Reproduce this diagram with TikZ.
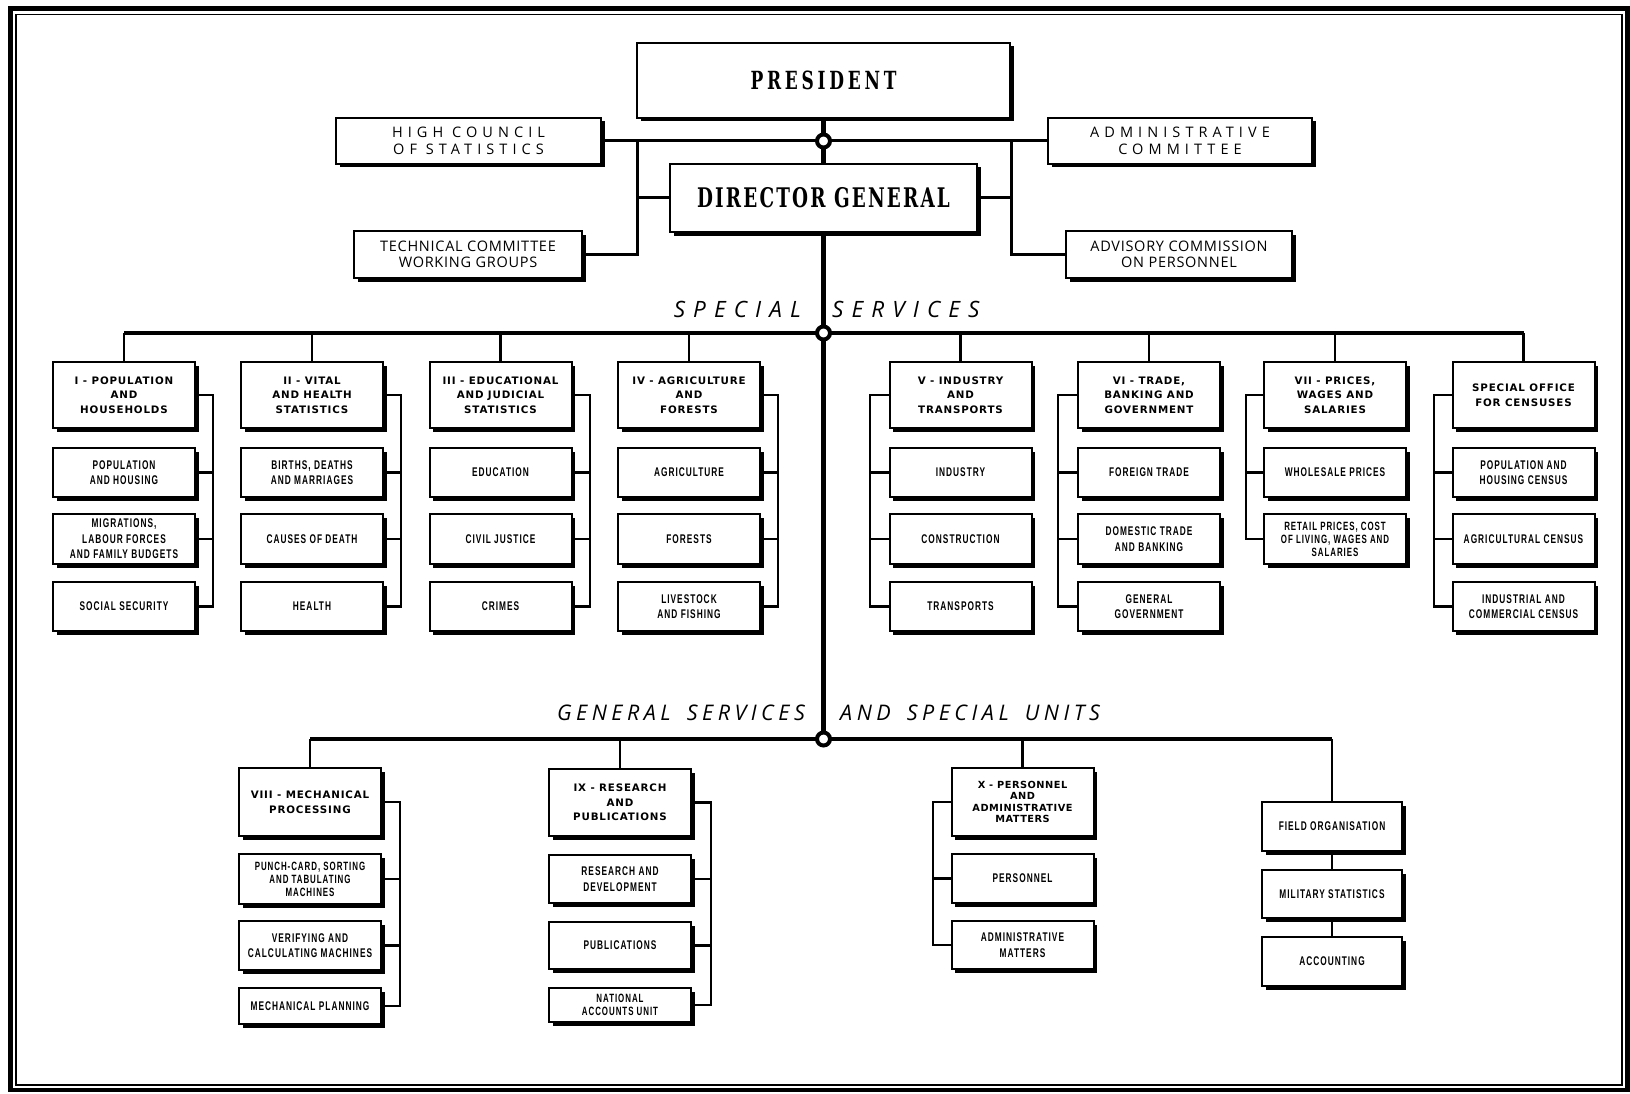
\documentclass[tikz,border=0pt]{standalone}
\usepackage{fontspec}
\usetikzlibrary{shadows}
\newfontfamily\presfont[FakeStretch=0.68]{DejaVu Serif}
\newfontfamily\hdfont{DejaVu Sans}
\newfontfamily\sbfont[FakeStretch=0.66]{Liberation Sans}
\newfontfamily\topfont{Open Sans}
\tikzset{
  box/.style={draw, line width=2pt, fill=white, inner sep=1pt, align=center,
    drop shadow={shadow xshift=3.5pt, shadow yshift=-3.5pt, fill=black, opacity=1}},
  presbox/.style={box, font=\presfont\bfseries\fontsize{25}{28}\selectfont\addfontfeatures{LetterSpace=15}},
  dgbox/.style={box, font=\presfont\bfseries\fontsize{27}{30}\selectfont\addfontfeatures{LetterSpace=8}},
  topwide/.style={box, font=\topfont\fontsize{14.5}{16.6}\selectfont\addfontfeatures{LetterSpace=35}},
  topnarrow/.style={box, font=\topfont\fontsize{14.5}{16.6}\selectfont\addfontfeatures{LetterSpace=5}},
  hdbox/.style={box, minimum width=142pt, minimum height=66pt, font=\hdfont\bfseries\fontsize{10.3}{14.5}\selectfont\addfontfeatures{LetterSpace=8}},
  hdtight/.style={font=\hdfont\bfseries\fontsize{9.8}{11.4}\selectfont\addfontfeatures{LetterSpace=5}},
  sbbox/.style={box, minimum width=142pt, minimum height=49pt, font=\sbfont\bfseries\fontsize{12.6}{15.6}\selectfont\addfontfeatures{LetterSpace=8}},
  sbtight/.style={font=\sbfont\bfseries\fontsize{12}{13}\selectfont\addfontfeatures{LetterSpace=8}},
  lblwide/.style={inner sep=0pt, font=\topfont\itshape\fontsize{22.5}{24}\selectfont\addfontfeatures{LetterSpace=36}},
  lblnarrow/.style={inner sep=0pt, font=\topfont\itshape\fontsize{21.5}{24}\selectfont\addfontfeatures{LetterSpace=21}},
  junc/.style={circle, draw, fill=white, line width=4pt, minimum size=13pt, inner sep=0pt},
  mainln/.style={line width=5pt},
  barln/.style={line width=4pt},
  topln/.style={line width=3pt},
  brln/.style={line width=2.5pt},
}
\begin{document}
\begin{tikzpicture}[x=1pt,y=-1pt]
\useasboundingbox (0,0) rectangle (1630,1094);
\fill[white] (0,0) rectangle (1630,1094);
% frame
\draw[line width=4.5pt] (10.5,8.5) rectangle (1627.5,1090);
\draw[line width=1.2pt] (16,14.5) rectangle (1622,1085);

% top
\node[presbox, minimum width=373pt, minimum height=75pt] (pres) at (823.5,80.5) {PRESIDENT};
\node[dgbox, minimum width=307pt, minimum height=68pt] (dg) at (823.5,198) {DIRECTOR GENERAL};
\node[topwide, minimum width=265pt, minimum height=46pt] (hc) at (468.5,141) {HIGH COUNCIL\\OF STATISTICS};
\node[topwide, minimum width=264pt, minimum height=46pt] (adm) at (1180,141) {ADMINISTRATIVE\\COMMITTEE};
\node[topnarrow, minimum width=228pt, minimum height=47pt] (tc) at (468,254.5) {TECHNICAL COMMITTEE\\WORKING GROUPS};
\node[topnarrow, minimum width=226pt, minimum height=47pt] (adv) at (1179,254.5) {ADVISORY COMMISSION\\ON PERSONNEL};

% labels
\node[lblwide, anchor=east] (ssl) at (801,309) {SPECIAL};
\node[lblwide, anchor=west] (ssr) at (832,309) {SERVICES};
\node[lblnarrow, anchor=east] (gsl) at (805,713) {GENERAL\hspace{16pt}SERVICES};
\node[lblnarrow, anchor=west] (gsr) at (840,713) {AND\hspace{16pt}SPECIAL\hspace{16pt}UNITS};

% special services, left columns
\node[hdbox] (p1) at (124,395) {I - POPULATION\\AND\\HOUSEHOLDS};
\node[sbbox] (p1a) at (124,472.5) {POPULATION\\AND HOUSING};
\node[sbbox, minimum height=50pt] (p1b) at (124,539) {MIGRATIONS,\\LABOUR FORCES\\AND FAMILY BUDGETS};
\node[sbbox] (p1c) at (124,606.5) {SOCIAL SECURITY};

\node[hdbox] (p2) at (312,395) {II - VITAL\\AND HEALTH\\STATISTICS};
\node[sbbox] (p2a) at (312,472.5) {BIRTHS, DEATHS\\AND MARRIAGES};
\node[sbbox, minimum height=50pt] (p2b) at (312,539) {CAUSES OF DEATH};
\node[sbbox] (p2c) at (312,606.5) {HEALTH};

\node[hdbox] (p3) at (500.5,395) {III - EDUCATIONAL\\AND JUDICIAL\\STATISTICS};
\node[sbbox] (p3a) at (500.5,472.5) {EDUCATION};
\node[sbbox, minimum height=50pt] (p3b) at (500.5,539) {CIVIL JUSTICE};
\node[sbbox] (p3c) at (500.5,606.5) {CRIMES};

\node[hdbox] (p4) at (689,395) {IV - AGRICULTURE\\AND\\FORESTS};
\node[sbbox] (p4a) at (689,472.5) {AGRICULTURE};
\node[sbbox, minimum height=50pt] (p4b) at (689,539) {FORESTS};
\node[sbbox] (p4c) at (689,606.5) {LIVESTOCK\\AND FISHING};

% special services, right columns
\node[hdbox] (p5) at (960.5,395) {V - INDUSTRY\\AND\\TRANSPORTS};
\node[sbbox] (p5a) at (960.5,472.5) {INDUSTRY};
\node[sbbox, minimum height=50pt] (p5b) at (960.5,539) {CONSTRUCTION};
\node[sbbox] (p5c) at (960.5,606.5) {TRANSPORTS};

\node[hdbox] (p6) at (1149,395) {VI - TRADE,\\BANKING AND\\GOVERNMENT};
\node[sbbox] (p6a) at (1149,472.5) {FOREIGN TRADE};
\node[sbbox, minimum height=50pt] (p6b) at (1149,539) {DOMESTIC TRADE\\AND BANKING};
\node[sbbox] (p6c) at (1149,606.5) {GENERAL\\GOVERNMENT};

\node[hdbox] (p7) at (1335,395) {VII - PRICES,\\WAGES AND\\SALARIES};
\node[sbbox] (p7a) at (1335,472.5) {WHOLESALE PRICES};
\node[sbbox, sbtight, minimum height=50pt] (p7b) at (1335,539) {RETAIL PRICES, COST\\OF LIVING, WAGES AND\\SALARIES};

\node[hdbox] (p8) at (1523.5,395) {SPECIAL OFFICE\\FOR CENSUSES};
\node[sbbox] (p8a) at (1523.5,472.5) {POPULATION AND\\HOUSING CENSUS};
\node[sbbox, minimum height=50pt] (p8b) at (1523.5,539) {AGRICULTURAL CENSUS};
\node[sbbox] (p8c) at (1523.5,606.5) {INDUSTRIAL AND\\COMMERCIAL CENSUS};

% general services
\node[hdbox, minimum height=68pt] (p9) at (310,802) {VIII - MECHANICAL\\PROCESSING};
\node[sbbox, sbtight, minimum height=50pt] (p9a) at (310,879) {PUNCH-CARD, SORTING\\AND TABULATING\\MACHINES};
\node[sbbox] (p9b) at (310,945.5) {VERIFYING AND\\CALCULATING MACHINES};
\node[sbbox, minimum height=36pt] (p9c) at (310,1006) {MECHANICAL PLANNING};

\node[hdbox, minimum height=67pt] (p10) at (620,802.5) {IX - RESEARCH\\AND\\PUBLICATIONS};
\node[sbbox, minimum height=48pt] (p10a) at (620,879) {RESEARCH AND\\DEVELOPMENT};
\node[sbbox, minimum height=47pt] (p10b) at (620,945.5) {PUBLICATIONS};
\node[sbbox, sbtight, minimum height=34pt] (p10c) at (620,1005) {NATIONAL\\ACCOUNTS UNIT};

\node[hdbox, hdtight, minimum height=68pt] (p11) at (1022.5,802) {X - PERSONNEL\\AND\\ADMINISTRATIVE\\MATTERS};
\node[sbbox] (p11a) at (1022.5,878.5) {PERSONNEL};
\node[sbbox, minimum height=48pt] (p11b) at (1022.5,945) {ADMINISTRATIVE\\MATTERS};

\node[sbbox, minimum width=140pt] (q1) at (1332,826.5) {FIELD ORGANISATION};
\node[sbbox, minimum width=140pt, minimum height=48pt] (q2) at (1332,894) {MILITARY STATISTICS};
\node[sbbox, minimum width=140pt] (q3) at (1332,961.5) {ACCOUNTING};

% junction coordinates
\coordinate (j1) at (823.5,141);
\coordinate (j2) at (823.5,333);
\coordinate (j3) at (823.5,739);
\coordinate (jl) at (637,141);
\coordinate (jr) at (1011,141);
\coordinate (b1) at (213,0);
\coordinate (b2) at (401,0);
\coordinate (b3) at (590,0);
\coordinate (b4) at (778,0);
\coordinate (b5) at (870,0);
\coordinate (b6) at (1058,0);
\coordinate (b7) at (1246,0);
\coordinate (b8) at (1434,0);
\coordinate (b9) at (400,0);
\coordinate (b10) at (711,0);
\coordinate (b11) at (933,0);

% top connectors
\draw[mainln] (pres.south) -- (dg.north);
\draw[mainln] (dg.south) -- (j3);
\draw[topln] (hc.east) -- (adm.west);
\draw[topln] (jl) -- (jl |- tc.east) -- (tc.east);
\draw[topln] (jl |- dg.west) -- (dg.west);
\draw[topln] (jr) -- (jr |- adv.west) -- (adv.west);
\draw[topln] (jr |- dg.east) -- (dg.east);

% special services bar and drops
\draw[barln] (p1.north |- j2) -- (p8.north |- j2);
\foreach \h in {p1,p2,p3,p4,p5,p6,p7,p8}
  \draw[brln] (\h.north) -- (\h.north |- j2);

% left brackets
\foreach \h/\b in {p1/b1,p2/b2,p3/b3,p4/b4}{
  \draw[brln] (\h.east) -- (\h.east -| \b) -- (\h c.east -| \b) -- (\h c.east);
  \draw[brln] (\h a.east) -- (\h a.east -| \b);
  \draw[brln] (\h b.east) -- (\h b.east -| \b);
}
% right brackets
\foreach \h/\b in {p5/b5,p6/b6,p8/b8}{
  \draw[brln] (\h.west) -- (\h.west -| \b) -- (\h c.west -| \b) -- (\h c.west);
  \draw[brln] (\h a.west) -- (\h a.west -| \b);
  \draw[brln] (\h b.west) -- (\h b.west -| \b);
}
\draw[brln] (p7.west) -- (p7.west -| b7) -- (p7b.west -| b7) -- (p7b.west);
\draw[brln] (p7a.west) -- (p7a.west -| b7);

% general services bar and drops
\draw[barln] (p9.north |- j3) -- (q1.north |- j3);
\foreach \h in {p9,p10,p11,q1}
  \draw[brln] (\h.north) -- (\h.north |- j3);
\foreach \h/\b in {p9/b9,p10/b10}{
  \draw[brln] (\h.east) -- (\h.east -| \b) -- (\h c.east -| \b) -- (\h c.east);
  \draw[brln] (\h a.east) -- (\h a.east -| \b);
  \draw[brln] (\h b.east) -- (\h b.east -| \b);
}
\draw[brln] (p11.west) -- (p11.west -| b11) -- (p11b.west -| b11) -- (p11b.west);
\draw[brln] (p11a.west) -- (p11a.west -| b11);
\draw[brln] (q1.south) -- (q2.north);
\draw[brln] (q2.south) -- (q3.north);

% junction circles
\node[junc] (c1) at (j1) {};
\node[junc] (c2) at (j2) {};
\node[junc] (c3) at (j3) {};
\end{tikzpicture}
\end{document}
